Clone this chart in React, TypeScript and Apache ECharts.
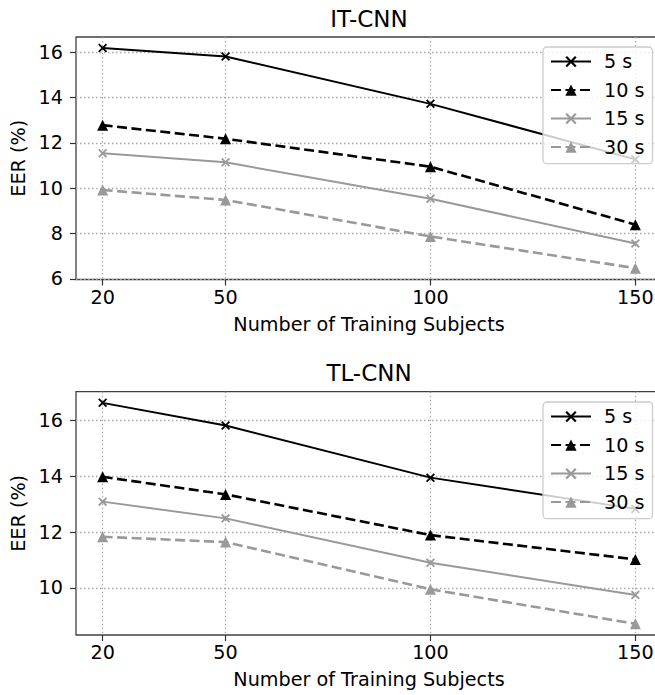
import React, { useEffect, useRef } from 'react';
import * as echarts from 'echarts';

const xTicks = [20, 50, 100, 150];
const seriesNames = ['5 s', '10 s', '15 s', '30 s'];

const itCnn5s = [16.18, 15.81, 13.72, 11.27];
const itCnn10s = [12.78, 12.18, 10.95, 8.39];
const itCnn15s = [11.54, 11.14, 9.53, 7.56];
const itCnn30s = [9.92, 9.48, 7.87, 6.47];

const tlCnn5s = [16.63, 15.82, 13.95, 12.83];
const tlCnn10s = [13.98, 13.35, 11.89, 11.02];
const tlCnn15s = [13.09, 12.49, 10.9, 9.74];
const tlCnn30s = [11.83, 11.64, 9.95, 8.71];

const yTicksTop = [6, 8, 10, 12, 14, 16];
const yTicksBottom = [10, 12, 14, 16];

const titles = ['IT-CNN', 'TL-CNN'];
const xName = 'Number of Training Subjects';
const yName = 'EER (%)';

const FONT = 'DejaVu Sans';
const FS = 19.2;
const TFS = 23;
const BLACK = '#000000';
const GRAY = '#999999';
const XMARK = 'path://M0,1.4L1.4,0L10,8.6L8.6,10ZM8.6,0L10,1.4L1.4,10L0,8.6Z';

const styles = [
  { color: BLACK, dash: 'solid' as any, width: 2, symbol: XMARK, size: 9 },
  { color: BLACK, dash: [10, 4.5] as any, width: 2.6, symbol: 'triangle', size: 11 },
  { color: GRAY, dash: 'solid' as any, width: 2, symbol: XMARK, size: 9 },
  { color: GRAY, dash: [10, 4.5] as any, width: 2.6, symbol: 'triangle', size: 11 },
];

function makeSeries(values: number[][], gridIdx: number) {
  return values.map((vals, i) => ({
    name: seriesNames[i],
    type: 'line',
    xAxisIndex: gridIdx,
    yAxisIndex: gridIdx,
    data: vals.map((v, j) => [xTicks[j], v]),
    symbol: styles[i].symbol,
    symbolSize: styles[i].size,
    showSymbol: true,
    lineStyle: { color: styles[i].color, width: styles[i].width, type: styles[i].dash },
    itemStyle: { color: styles[i].color, borderWidth: 0 },
    emphasis: { disabled: true },
    z: 2 + i * 0.01,
  }));
}

function xAxis(gridIndex: number) {
  return {
    type: 'value',
    gridIndex,
    min: 13.5,
    max: 156.5,
    name: xName,
    nameLocation: 'middle',
    nameGap: 35,
    nameTextStyle: { fontFamily: FONT, fontSize: FS, color: '#000' },
    axisLine: { show: false },
    axisTick: { show: true, customValues: xTicks, length: 6, lineStyle: { color: '#333', width: 1.2 } },
    axisLabel: { customValues: xTicks, fontFamily: FONT, fontSize: FS, color: '#000', margin: 8 },
    splitLine: { show: true, lineStyle: { color: '#aaaaaa', type: [1.5, 2.5], width: 1.3 } },
  };
}

function yAxis(gridIndex: number, min: number, max: number, ticks: number[]) {
  return {
    type: 'value',
    gridIndex,
    min,
    max,
    name: yName,
    nameLocation: 'middle',
    nameGap: 37,
    nameTextStyle: { fontFamily: FONT, fontSize: FS, color: '#000' },
    axisLine: { show: false },
    axisTick: { show: true, customValues: ticks, length: 6, lineStyle: { color: '#333', width: 1.2 } },
    axisLabel: { customValues: ticks, fontFamily: FONT, fontSize: FS, color: '#000', margin: 13 },
    splitLine: { show: true, lineStyle: { color: '#aaaaaa', type: [1.5, 2.5], width: 1.3 } },
  };
}

function legend(top: number) {
  return {
    data: seriesNames,
    orient: 'vertical',
    left: 543,
    top,
    padding: [5, 8, 7, 7],
    itemGap: 9.3,
    itemWidth: 40,
    itemHeight: 14,
    backgroundColor: 'rgba(255,255,255,0.8)',
    borderColor: '#cccccc',
    borderWidth: 1.3,
    borderRadius: 4,
    selectedMode: false,
    textStyle: { fontFamily: FONT, fontSize: FS, color: '#000', lineHeight: FS, padding: [0, 0, 0, 8] },
  };
}

export default function App() {
  const ref = useRef<HTMLDivElement>(null);
  useEffect(() => {
    if (!ref.current) return;
    const chart = echarts.init(ref.current, null, { renderer: 'svg' });
    const gridStyle = {
      show: true,
      borderColor: '#404040',
      borderWidth: 1.3,
      backgroundColor: 'transparent',
      containLabel: false,
      outerBoundsMode: 'none',
    };
    chart.setOption({
      animation: false,
      backgroundColor: '#ffffff',
      grid: [
        { left: 76, top: 37, width: 586, height: 242.5, ...gridStyle },
        { left: 76, top: 391.7, width: 586, height: 243.3, ...gridStyle },
      ],
      xAxis: [xAxis(0), xAxis(1)],
      yAxis: [yAxis(0, 5.97, 16.67, yTicksTop), yAxis(1, 8.31, 17.03, yTicksBottom)],
      legend: [legend(47), legend(402)],
      graphic: [
        { type: 'text', x: 369, y: 18.5, style: { text: titles[0], fontFamily: FONT, fontSize: TFS, fill: '#000', textAlign: 'center', textVerticalAlign: 'middle' } },
        { type: 'text', x: 369, y: 373, style: { text: titles[1], fontFamily: FONT, fontSize: TFS, fill: '#000', textAlign: 'center', textVerticalAlign: 'middle' } },
      ],
      series: [
        ...makeSeries([itCnn5s, itCnn10s, itCnn15s, itCnn30s], 0),
        ...makeSeries([tlCnn5s, tlCnn10s, tlCnn15s, tlCnn30s], 1),
      ],
    });
    return () => chart.dispose();
  }, []);
  return <div ref={ref} style={{ position: 'absolute', left: 0, top: 0, width: 655, height: 695 }} />;
}
